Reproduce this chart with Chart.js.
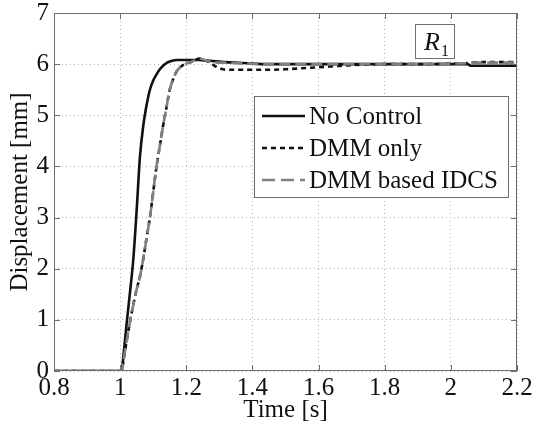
<!DOCTYPE html>
<html><head><meta charset="utf-8">
<script src="https://cdn.jsdelivr.net/npm/chart.js@4/dist/chart.umd.min.js"></script>
</head><body style="margin:0;background:#fff">
<canvas id="c" width="534" height="427"></canvas>
<script>
// ---- data ----
const time = [0.8, 1.0, 1.005, 1.01, 1.02, 1.03, 1.04, 1.05, 1.06, 1.07, 1.08, 1.09, 1.10, 1.11, 1.12, 1.13, 1.14, 1.15, 1.16, 1.17, 1.18, 1.19, 1.20, 1.21, 1.22, 1.24, 1.26, 1.28, 1.30, 1.32, 1.35, 1.40, 1.45, 1.50, 1.55, 1.60, 1.65, 1.70, 1.80, 1.90, 2.00, 2.05, 2.06, 2.10, 2.20];
const noControl = [0, 0, 0, 0.3, 0.95, 1.55, 2.2, 3.15, 4.2, 4.8, 5.2, 5.5, 5.68, 5.8, 5.9, 5.97, 6.02, 6.05, 6.07, 6.08, 6.08, 6.08, 6.08, 6.08, 6.08, 6.08, 6.07, 6.06, 6.05, 6.04, 6.03, 6.01, 6.0, 6.0, 6.0, 6.0, 6.0, 6.0, 6.0, 6.0, 6.0, 6.0, 5.97, 5.97, 5.97];
const dmmOnly = [0, 0, 0, 0.2, 0.6, 0.97, 1.3, 1.6, 1.85, 2.2, 2.6, 3.0, 3.5, 4.0, 4.4, 4.8, 5.15, 5.5, 5.7, 5.85, 5.93, 5.98, 6.01, 6.03, 6.06, 6.11, 6.07, 5.99, 5.92, 5.89, 5.89, 5.89, 5.89, 5.9, 5.92, 5.94, 5.96, 5.98, 6.0, 6.0, 6.01, 6.02, 6.03, 6.04, 6.04];
const dmmIdcs = [0, 0, 0, 0.2, 0.6, 0.97, 1.3, 1.6, 1.85, 2.2, 2.6, 3.0, 3.5, 4.0, 4.4, 4.8, 5.15, 5.5, 5.7, 5.85, 5.93, 5.98, 6.01, 6.03, 6.06, 6.11, 6.07, 6.04, 6.03, 6.03, 6.02, 6.01, 6.0, 6.0, 6.0, 6.0, 6.0, 6.0, 6.0, 6.0, 6.01, 6.02, 6.03, 6.03, 6.03];
const seriesLabels = ['No Control', 'DMM only', 'DMM based IDCS'];
const xTicks = [0.8, 1, 1.2, 1.4, 1.6, 1.8, 2, 2.2];
const yTicks = [0, 1, 2, 3, 4, 5, 6, 7];
const xTitle = 'Time [s]';
const yTitle = 'Displacement [mm]';
const boxLabel = 'R';
const boxSub = '1';

// ---- styles ----
const FONT = 'Liberation Serif';
Chart.defaults.font.family = FONT;
Chart.defaults.font.size = 25;
Chart.defaults.color = '#111';
const styles = [
  {color: '#111111', dash: [], width: 2.6, legendDash: []},
  {color: '#111111', dash: [5, 4], width: 2.6, legendDash: [5, 4]},
  {color: '#808080', dash: [11, 5], width: 2.6, legendDash: [13, 6]}
];
const seriesData = [noControl, dmmOnly, dmmIdcs];

const datasets = seriesData.map((arr, i) => ({
  label: seriesLabels[i],
  data: time.map((t, k) => ({x: t, y: arr[k]})),
  borderColor: styles[i].color,
  borderWidth: styles[i].width,
  borderDash: styles[i].dash,
  pointRadius: 0,
  fill: false,
  cubicInterpolationMode: 'monotone',
  order: 2 - i
}));

const decor = {
  id: 'decor',
  afterDatasetsDraw(chart) {
    const ctx = chart.ctx, a = chart.chartArea;
    const xs = chart.scales.x, ys = chart.scales.y;
    ctx.save();
    ctx.strokeStyle = '#6e6e6e';
    ctx.lineWidth = 1;
    ctx.setLineDash([]);
    ctx.strokeRect(a.left + 0.5, a.top + 0.5, a.right - a.left - 1, a.bottom - a.top - 1);
    const TL = 6;
    ctx.beginPath();
    xTicks.forEach(v => {
      const px = Math.round(xs.getPixelForValue(v)) + 0.5;
      ctx.moveTo(px, a.bottom); ctx.lineTo(px, a.bottom - TL);
      ctx.moveTo(px, a.top); ctx.lineTo(px, a.top + TL);
    });
    yTicks.forEach(v => {
      const py = Math.round(ys.getPixelForValue(v)) + 0.5;
      ctx.moveTo(a.left, py); ctx.lineTo(a.left + TL, py);
      ctx.moveTo(a.right, py); ctx.lineTo(a.right - TL, py);
    });
    ctx.stroke();

    // legend
    const L = {x: 254, y: 96, w: 254, h: 101};
    ctx.fillStyle = '#fff';
    ctx.fillRect(L.x, L.y, L.w, L.h);
    ctx.strokeStyle = '#6e6e6e';
    ctx.lineWidth = 1;
    ctx.strokeRect(L.x + 0.5, L.y + 0.5, L.w, L.h);
    const rows = [116, 148, 180];
    ctx.font = '25px ' + FONT;
    ctx.textBaseline = 'middle';
    ctx.textAlign = 'left';
    seriesLabels.forEach((lab, i) => {
      const y = rows[i];
      ctx.strokeStyle = styles[i].color;
      ctx.lineWidth = styles[i].width;
      ctx.setLineDash(styles[i].legendDash);
      ctx.beginPath(); ctx.moveTo(262, y); ctx.lineTo(305, y); ctx.stroke();
      ctx.setLineDash([]);
      ctx.fillStyle = '#111';
      ctx.fillText(lab, 309, y + 1);
    });

    // R1 box
    ctx.fillStyle = '#fff';
    ctx.fillRect(415, 24, 39, 34);
    ctx.strokeStyle = '#6e6e6e';
    ctx.lineWidth = 1;
    ctx.strokeRect(415.5, 24.5, 39, 34);
    ctx.fillStyle = '#111';
    ctx.textBaseline = 'alphabetic';
    ctx.font = 'italic 26px ' + FONT;
    ctx.fillText(boxLabel, 424, 50);
    ctx.font = '16px ' + FONT;
    ctx.fillText(boxSub, 441, 56);
    ctx.restore();
  }
};

function build() {
  new Chart(document.getElementById('c'), {
    type: 'line',
    data: {datasets},
    options: {
      responsive: false,
      animation: false,
      devicePixelRatio: 1,
      layout: {padding: {top: 13, right: 17, left: 0, bottom: 0}},
      plugins: {legend: {display: false}, tooltip: {enabled: false}, title: {display: false}},
      scales: {
        x: {
          type: 'linear', min: 0.8, max: 2.2,
          afterBuildTicks: s => { s.ticks = xTicks.map(v => ({value: v})); },
          afterFit: s => { s.height = 56; s.paddingLeft = 0; s.paddingRight = 0; },
          ticks: {font: {family: FONT, size: 25, lineHeight: 1}, color: '#111', padding: 5, maxRotation: 0,
                  callback: v => String(v)},
          title: {display: true, text: xTitle, font: {family: FONT, size: 25, lineHeight: 1}, color: '#111', padding: {top: 0, bottom: 4}},
          grid: {color: '#b5b5b5', lineWidth: 1, drawTicks: false},
          border: {display: false, dash: [1, 3]}
        },
        y: {
          type: 'linear', min: 0, max: 7,
          afterBuildTicks: s => { s.ticks = yTicks.map(v => ({value: v})); },
          afterFit: s => { s.width = 54; s.paddingTop = 0; s.paddingBottom = 0; },
          ticks: {font: {family: FONT, size: 25, lineHeight: 1}, color: '#111', padding: 5,
                  callback: v => String(v)},
          title: {display: true, text: yTitle, font: {family: FONT, size: 25, lineHeight: 1}, color: '#111', padding: {top: 8, bottom: 0}},
          grid: {color: '#b5b5b5', lineWidth: 1, drawTicks: false},
          border: {display: false, dash: [1, 3]}
        }
      }
    },
    plugins: [decor]
  });
}

let built = false;
function go() { if (!built) { built = true; build(); } }
if (document.fonts && document.fonts.load) {
  Promise.all([
    document.fonts.load('25px "Liberation Serif"'),
    document.fonts.load('italic 25px "Liberation Serif"')
  ]).then(go, go);
  setTimeout(go, 150);
} else {
  go();
}
</script>
</body></html>
